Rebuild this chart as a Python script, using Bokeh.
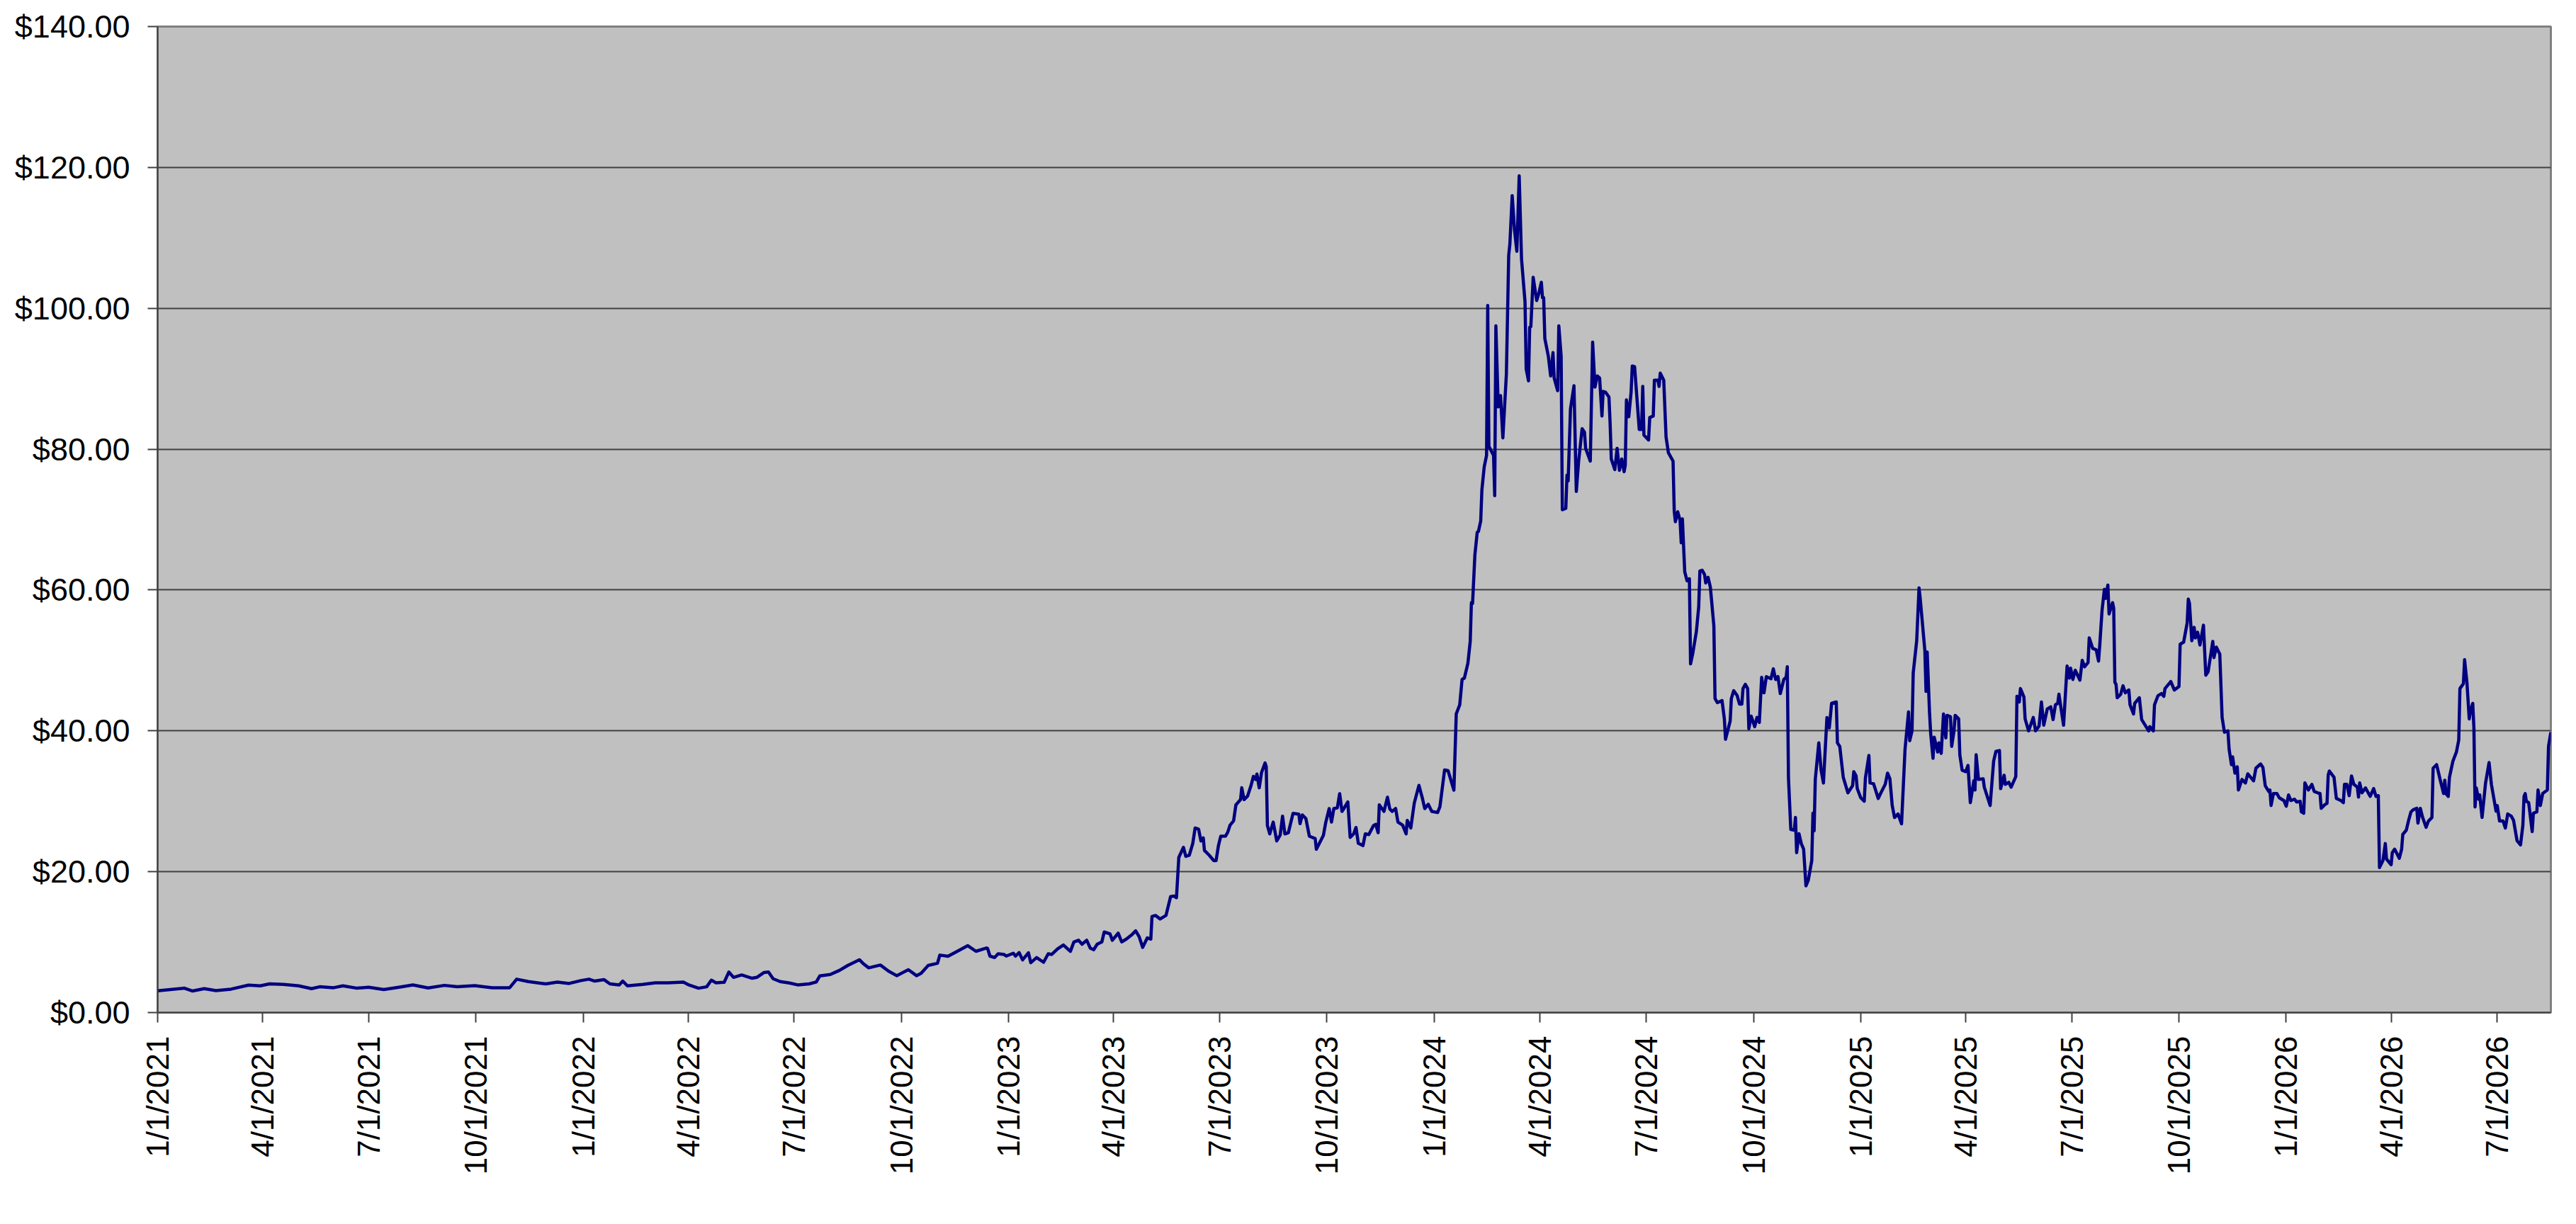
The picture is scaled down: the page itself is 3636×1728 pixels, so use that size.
import math
import pandas as pd
from bokeh.plotting import figure
from bokeh.models import Range1d, FixedTicker, NumeralTickFormatter, ColumnDataSource
from bokeh.embed import file_html
from bokeh.resources import INLINE

START_DATE = "2021-01-01"

# day offsets from START_DATE and the price
days = [
    0, 23, 30, 40, 50, 63, 78, 88, 96, 108, 121, 132, 139, 151, 159, 171, 181, 194, 207, 219,
    232, 246, 257, 272, 287, 302, 308, 318, 333, 343, 353, 363, 370, 375, 383, 388, 396, 399, 403, 416,
    427, 438, 451, 456, 464, 471, 475, 479, 486, 490, 494, 501, 510, 514, 520, 524, 528, 534, 542, 549,
    559, 565, 568, 577, 585, 592, 602, 605, 610, 620, 627, 634, 644, 651, 655, 661, 669, 671, 678, 686,
    695, 702, 711,
    712, 714, 718, 721, 726, 728, 734, 736, 739, 742, 747, 749, 754, 760, 764, 767, 772, 777, 783, 786,
    790, 793, 797, 800, 803, 806, 810, 812, 817, 819, 824, 827, 831, 836, 839, 842, 845, 849, 852, 853,
    856, 860, 865, 869, 872, 874, 876, 880, 882, 885, 888, 890, 893, 895, 897, 898, 902, 906, 908, 910,
    912, 916, 918, 920, 923, 925, 929, 930, 932, 935, 938, 940, 942, 943, 945, 947, 950, 951, 952, 954,
    957, 960, 963, 965, 967, 970, 974, 979, 980, 982, 985, 986, 988, 993, 994, 1000, 1002, 1005, 1007, 1009,
    1012, 1014, 1016, 1018, 1021, 1023, 1026, 1028, 1030, 1034, 1036, 1039, 1043, 1045, 1047, 1048, 1052, 1055, 1057, 1059,
    1062, 1064, 1068, 1071, 1072, 1075, 1078, 1082, 1085, 1087, 1090, 1093, 1098, 1100, 1104, 1107, 1112,
    1114, 1117, 1119, 1121, 1124, 1126, 1127, 1128, 1130, 1132, 1133, 1135, 1136, 1138, 1140, 1141, 1142, 1146, 1147, 1148,
    1150, 1152, 1154, 1157, 1159, 1160, 1162, 1164, 1166, 1168, 1170, 1173, 1174, 1176, 1177, 1178, 1180, 1183, 1185, 1187,
    1188, 1189, 1190, 1193, 1195, 1197, 1198, 1201, 1202, 1204, 1205, 1208, 1209, 1210, 1212, 1215, 1217, 1219, 1222, 1224,
    1225, 1229, 1231, 1233, 1235, 1237, 1239,
    1240, 1242, 1245, 1246, 1247, 1250, 1252, 1254, 1256, 1258, 1259, 1260, 1262, 1264, 1265, 1267, 1271, 1273, 1274, 1275,
    1279, 1280, 1283, 1284, 1287, 1288, 1289, 1292, 1294, 1296, 1300, 1301, 1302, 1304, 1306, 1307, 1308, 1310, 1312, 1314,
    1315, 1317, 1320, 1322, 1323, 1325, 1327, 1328, 1330, 1332, 1335, 1336, 1338, 1342, 1344, 1345, 1349, 1350, 1352, 1355,
    1357, 1359, 1360, 1362, 1364, 1365, 1367,
    1370, 1372, 1374, 1376, 1378, 1380, 1384, 1386, 1388, 1390, 1392, 1395, 1397, 1398, 1399, 1401, 1404, 1405, 1406, 1408,
    1410, 1412, 1414, 1416, 1419, 1420, 1421, 1422, 1425, 1427, 1429, 1432, 1434, 1436, 1440, 1441, 1443, 1446, 1450, 1454,
    1455, 1457, 1458, 1461, 1464, 1465, 1468, 1469, 1472, 1476, 1478, 1482, 1484, 1486, 1488, 1490, 1493, 1496, 1499, 1502,
    1503, 1505, 1506, 1509, 1511, 1512, 1516, 1517, 1518, 1520, 1521, 1523, 1524, 1527, 1528, 1530, 1532, 1534, 1535, 1538,
    1539, 1541, 1542, 1545, 1546, 1548, 1551, 1553, 1555, 1558, 1559, 1560, 1562, 1566, 1567, 1572, 1575, 1577, 1580, 1581,
    1584, 1585, 1588, 1590, 1594, 1595, 1597, 1598, 1601, 1602, 1605, 1609, 1611, 1614, 1616, 1618, 1621, 1624, 1626, 1628,
    1630, 1631, 1635, 1638, 1640, 1641, 1643, 1645, 1649, 1651, 1653, 1656, 1657, 1660, 1663, 1665, 1666, 1668, 1670, 1671,
    1673, 1674, 1677, 1678, 1679, 1680, 1681, 1684, 1686, 1688, 1691, 1692, 1695, 1696, 1700, 1702, 1705, 1708, 1709, 1712,
    1713, 1716, 1719, 1721, 1722, 1727, 1730, 1734, 1735, 1738, 1741, 1742, 1743, 1745, 1747, 1748, 1750, 1752, 1755, 1757,
    1759, 1763, 1764, 1766, 1769, 1771, 1773, 1776, 1777, 1779, 1780, 1782, 1784, 1785, 1788, 1791, 1793, 1798, 1800, 1804,
    1806, 1808, 1811, 1812, 1813, 1815, 1818, 1820, 1824, 1826, 1828, 1830, 1833, 1835, 1838, 1839, 1841, 1842, 1845, 1848,
    1850, 1853, 1855, 1856, 1859, 1861, 1862, 1863, 1867, 1869, 1873, 1875, 1876, 1878, 1880, 1882, 1884, 1887, 1888, 1889,
    1891, 1894, 1898, 1901, 1903, 1905, 1906, 1909, 1911, 1912, 1916, 1917, 1919, 1923, 1925, 1926, 1929, 1931, 1933, 1935,
    1938, 1939, 1941, 1943, 1946, 1948, 1951, 1952, 1955, 1958, 1961, 1962, 1963, 1965, 1966, 1969, 1972, 1974, 1975, 1978,
    1979, 1981, 1983, 1984, 1986, 1987, 1988, 1989, 1991, 1992, 1994, 1997, 2000, 2002, 2006, 2007, 2009, 2012, 2014, 2016,
    2019, 2021, 2024, 2027, 2029, 2030, 2031, 2032, 2034, 2037, 2038, 2041, 2042, 2044, 2046, 2050, 2051, 2053,
]

prices = [
    3.10, 3.46, 3.06, 3.39, 3.12, 3.33, 3.90, 3.80, 4.07, 4.00, 3.80, 3.39, 3.66, 3.53, 3.80, 3.46, 3.60, 3.26, 3.60, 3.93,
    3.50, 3.86, 3.66, 3.83, 3.53, 3.53, 4.74, 4.40, 4.07, 4.33, 4.13, 4.54, 4.74, 4.47, 4.67, 4.07, 3.93, 4.47, 3.80, 4.00,
    4.23, 4.23, 4.33, 3.90, 3.46, 3.66, 4.60, 4.23, 4.30, 5.75, 5.00, 5.34, 4.87, 5.00, 5.68, 5.75, 4.80, 4.40, 4.20, 3.93,
    4.07, 4.33, 5.20, 5.40, 6.00, 6.69, 7.50, 7.00, 6.35, 6.75, 5.88, 5.24, 6.08, 5.24, 5.58, 6.69, 7.00, 8.16, 8.00, 8.70,
    9.50, 8.70, 9.17,
    9.09, 8.02, 7.81, 8.35, 8.25, 8.02, 8.42, 8.02, 8.52, 7.48, 8.49, 7.08, 7.81, 7.14, 8.35, 8.25, 9.03, 9.60, 8.69, 10.03,
    10.27, 9.70, 10.27, 9.16, 8.92, 9.70, 10.03, 11.44, 11.17, 10.27, 11.27, 10.03, 10.43, 11.10, 11.61, 10.77, 9.26, 10.60, 10.43, 13.63,
    13.79, 13.29, 13.79, 16.48, 16.54, 16.31, 22.02, 23.46, 22.18, 22.35, 24.03, 26.21, 26.04, 24.37, 24.80, 23.02, 22.35, 21.58, 21.58, 23.70,
    25.04, 25.04, 25.61, 26.62, 27.22, 29.50, 30.24, 31.92, 30.24, 30.74, 32.26, 33.53, 33.09, 33.87, 31.92, 34.10, 35.44, 34.94, 26.55, 25.37,
    27.05, 24.37, 25.21, 27.89, 25.37, 25.54, 28.29, 28.16, 26.82, 28.06, 27.56, 26.72, 25.04, 24.70, 23.19, 25.14, 26.95, 28.97, 27.05, 28.97,
    29.07, 31.08, 28.56, 29.07, 29.90, 24.87, 25.37, 26.28, 24.03, 23.70, 25.37, 25.27, 26.55, 26.72, 25.54, 29.50, 28.56, 30.58, 28.90, 28.56,
    28.97, 27.05, 26.62, 25.37, 27.29, 26.21, 29.74, 32.26, 30.41, 28.97, 29.57, 28.56, 28.40, 29.23, 34.44, 34.34, 31.58,
    42.4, 43.7, 47.3, 47.5, 49.6, 52.7, 58.2, 58.1, 65.0, 68.2, 68.3, 69.8, 74.2, 77.5, 79.1, 100.4, 80.4, 79.1, 73.4, 97.5,
    86.0, 87.6, 81.6, 90.6, 107.5, 109.1, 116.0, 111.1, 108.1, 118.8, 107.0, 100.9, 91.4, 89.7, 97.3, 97.4, 104.4, 101.1, 102.2, 103.7,
    101.5, 101.5, 95.7, 93.2, 90.4, 93.7, 90.1, 88.3, 97.5, 93.2, 71.4, 71.6, 76.3, 75.5, 85.7, 89.0, 74.0, 78.3, 82.9, 82.4,
    80.1, 78.3, 95.2, 88.8, 90.4, 90.1, 84.7,
    88.2, 88.1, 87.4, 83.7, 78.6, 77.1, 80.1, 77.0, 78.6, 76.8, 77.7, 87.0, 84.6, 88.1, 91.8, 91.7, 82.8, 82.8, 88.9, 82.0,
    81.3, 84.5, 84.7, 89.8, 89.8, 88.9, 90.8, 89.8, 81.7, 79.5, 78.3, 71.2, 69.7, 71.1, 69.9, 66.7, 70.1, 62.6, 61.3, 61.6,
    49.5, 51.1, 54.1, 57.6, 62.7, 62.8, 62.2, 61.0, 61.8, 60.4, 54.9, 44.6, 44.0, 44.3, 41.7, 38.8, 41.4, 44.6, 45.7, 45.0,
    43.8, 43.8, 46.0, 46.6, 46.0, 40.3, 42.1,
    40.6, 41.9, 41.2, 47.6, 45.4, 47.7, 47.4, 48.8, 47.3, 47.7, 45.3, 47.3, 47.6, 49.1, 33.3, 26.0, 25.9, 27.7, 22.7, 25.4,
    24.0, 23.2, 18.0, 18.8, 21.6, 28.3, 25.8, 33.1, 38.3, 34.4, 32.6, 41.9, 40.4, 43.9, 44.1, 38.3, 37.8, 33.4, 31.2, 32.2,
    34.2, 33.6, 31.8, 30.5, 30.0, 33.3, 36.5, 32.6, 32.5, 30.4, 31.1, 32.4, 34.0, 33.2, 29.4, 27.7, 28.2, 26.8, 37.4, 42.7,
    38.6, 40.0, 48.2, 52.8, 60.3, 58.8, 51.4, 45.6, 51.2, 42.6, 39.6, 36.1, 39.1, 37.0, 38.3, 36.8, 42.4, 39.0, 42.2, 42.0,
    37.8, 40.0, 42.2, 41.7, 36.6, 34.4, 34.2, 35.1, 29.8, 32.9, 31.6, 36.6, 33.1, 33.2, 32.0, 29.4, 35.7, 37.1, 37.2, 31.8,
    33.7, 32.4, 32.7, 32.0, 33.5, 44.9, 44.1, 46.0, 44.8, 41.7, 40.0, 41.9, 40.0, 40.7, 44.1, 40.8, 43.1, 43.4, 41.6, 43.7,
    43.9, 45.2, 40.8, 49.2, 47.5, 48.9, 47.3, 48.6, 47.2, 50.0, 49.1, 49.7, 53.2, 51.7, 51.5, 49.9, 52.1, 57.1, 60.1, 58.8,
    60.7, 56.6, 58.2, 57.4, 46.9, 46.6, 44.7, 45.2, 46.4, 45.4, 45.8, 43.7, 42.4, 43.9, 44.7, 41.6, 40.8, 40.0, 40.6, 40.0,
    43.7, 45.0, 45.3, 44.9, 46.0, 47.0, 45.8, 46.3, 52.3, 52.6, 55.3, 58.7, 58.1, 52.8, 54.7, 53.2, 54.0, 52.2, 55.0, 47.9,
    48.4, 52.7, 50.4, 51.9, 50.9, 41.9, 39.8, 40.0, 37.4, 35.2, 36.3, 34.0, 34.9, 31.6, 33.1, 32.6, 33.9, 32.9, 34.7, 35.3,
    34.8, 32.2, 31.4, 31.6, 29.4, 31.1, 31.1, 30.5, 30.1, 29.3, 30.9, 30.1, 30.3, 29.9, 30.0, 28.5, 28.3, 32.6, 31.6, 32.4,
    31.4, 31.2, 31.1, 29.0, 29.5, 29.7, 33.7, 34.3, 33.4, 30.4, 30.1, 29.8, 32.4, 32.4, 30.8, 33.6, 32.4, 32.0, 30.6, 32.6,
    31.2, 31.9, 30.7, 31.8, 30.7, 30.8, 20.6, 21.6, 24.0, 21.8, 21.0, 22.7, 23.2, 21.9, 23.2, 25.3, 25.9, 27.3, 28.5, 28.8,
    29.0, 26.9, 29.0, 27.7, 26.3, 27.2, 27.7, 34.7, 35.2, 33.1, 31.1, 33.0, 31.1, 30.7, 33.4, 35.7, 37.0, 38.7, 46.0, 46.7,
    50.1, 46.9, 41.7, 42.8, 43.9, 40.4, 29.2, 31.9, 30.3, 30.9, 27.7, 32.6, 35.5, 32.4, 28.6, 29.4, 27.2, 27.2, 26.2, 28.2,
    27.9, 27.3, 24.4, 23.8, 26.6, 30.7, 31.1, 30.0, 29.8, 25.7, 28.3, 28.5, 31.6, 29.4, 31.1, 31.6, 37.8, 39.8,
]

x_tick_labels = [
    "1/1/2021", "4/1/2021", "7/1/2021", "10/1/2021",
    "1/1/2022", "4/1/2022", "7/1/2022", "10/1/2022",
    "1/1/2023", "4/1/2023", "7/1/2023", "10/1/2023",
    "1/1/2024", "4/1/2024", "7/1/2024", "10/1/2024",
    "1/1/2025", "4/1/2025", "7/1/2025", "10/1/2025",
    "1/1/2026", "4/1/2026", "7/1/2026",
]
y_ticks = [0, 20, 40, 60, 80, 100, 120, 140]

dates = pd.to_datetime(START_DATE) + pd.to_timedelta(days, unit="D")
source = ColumnDataSource(dict(date=dates, price=prices))

tick_dates = pd.to_datetime(x_tick_labels, format="%m/%d/%Y")
tick_ms = [float(t.value // 10**6) for t in tick_dates]

FONT = "Liberation Sans"

p = figure(
    x_axis_type="datetime",
    frame_width=3378, frame_height=1392,
    min_border_left=222, min_border_right=20, min_border_top=37, min_border_bottom=283,
    x_range=Range1d(dates[0], dates[-1]),
    y_range=Range1d(y_ticks[0], y_ticks[-1]),
    output_backend="svg", toolbar_location=None,
)
p.background_fill_color = "#C0C0C0"
p.border_fill_color = "white"
p.outline_line_color = "#808080"
p.outline_line_width = 3

p.xgrid.visible = False
p.ygrid.ticker = FixedTicker(ticks=y_ticks)
p.ygrid.grid_line_color = "#404040"
p.ygrid.grid_line_width = 2

for ax in (p.xaxis[0], p.yaxis[0]):
    ax.axis_line_color = "#404040"
    ax.axis_line_width = 2
    ax.major_tick_line_color = "#404040"
    ax.major_tick_line_width = 2
    ax.major_tick_in = 0
    ax.major_tick_out = 14
    ax.minor_tick_line_color = None
    ax.major_label_text_font = FONT
    ax.major_label_text_color = "black"

p.yaxis[0].major_label_text_font_size = "45px"
p.xaxis[0].major_label_text_font_size = "44px"

p.yaxis[0].ticker = FixedTicker(ticks=y_ticks)
p.yaxis[0].formatter = NumeralTickFormatter(format="$0.00")
p.yaxis[0].major_label_standoff = 25

p.xaxis[0].ticker = FixedTicker(ticks=tick_ms)
p.xaxis[0].major_label_overrides = {ms: lab for ms, lab in zip(tick_ms, x_tick_labels)}
p.xaxis[0].major_label_orientation = math.pi / 2
p.xaxis[0].major_label_standoff = 19

p.line("date", "price", source=source, line_color="#000080", line_width=4.5, line_join="round")

open("out.html", "w").write(file_html(p, INLINE))
